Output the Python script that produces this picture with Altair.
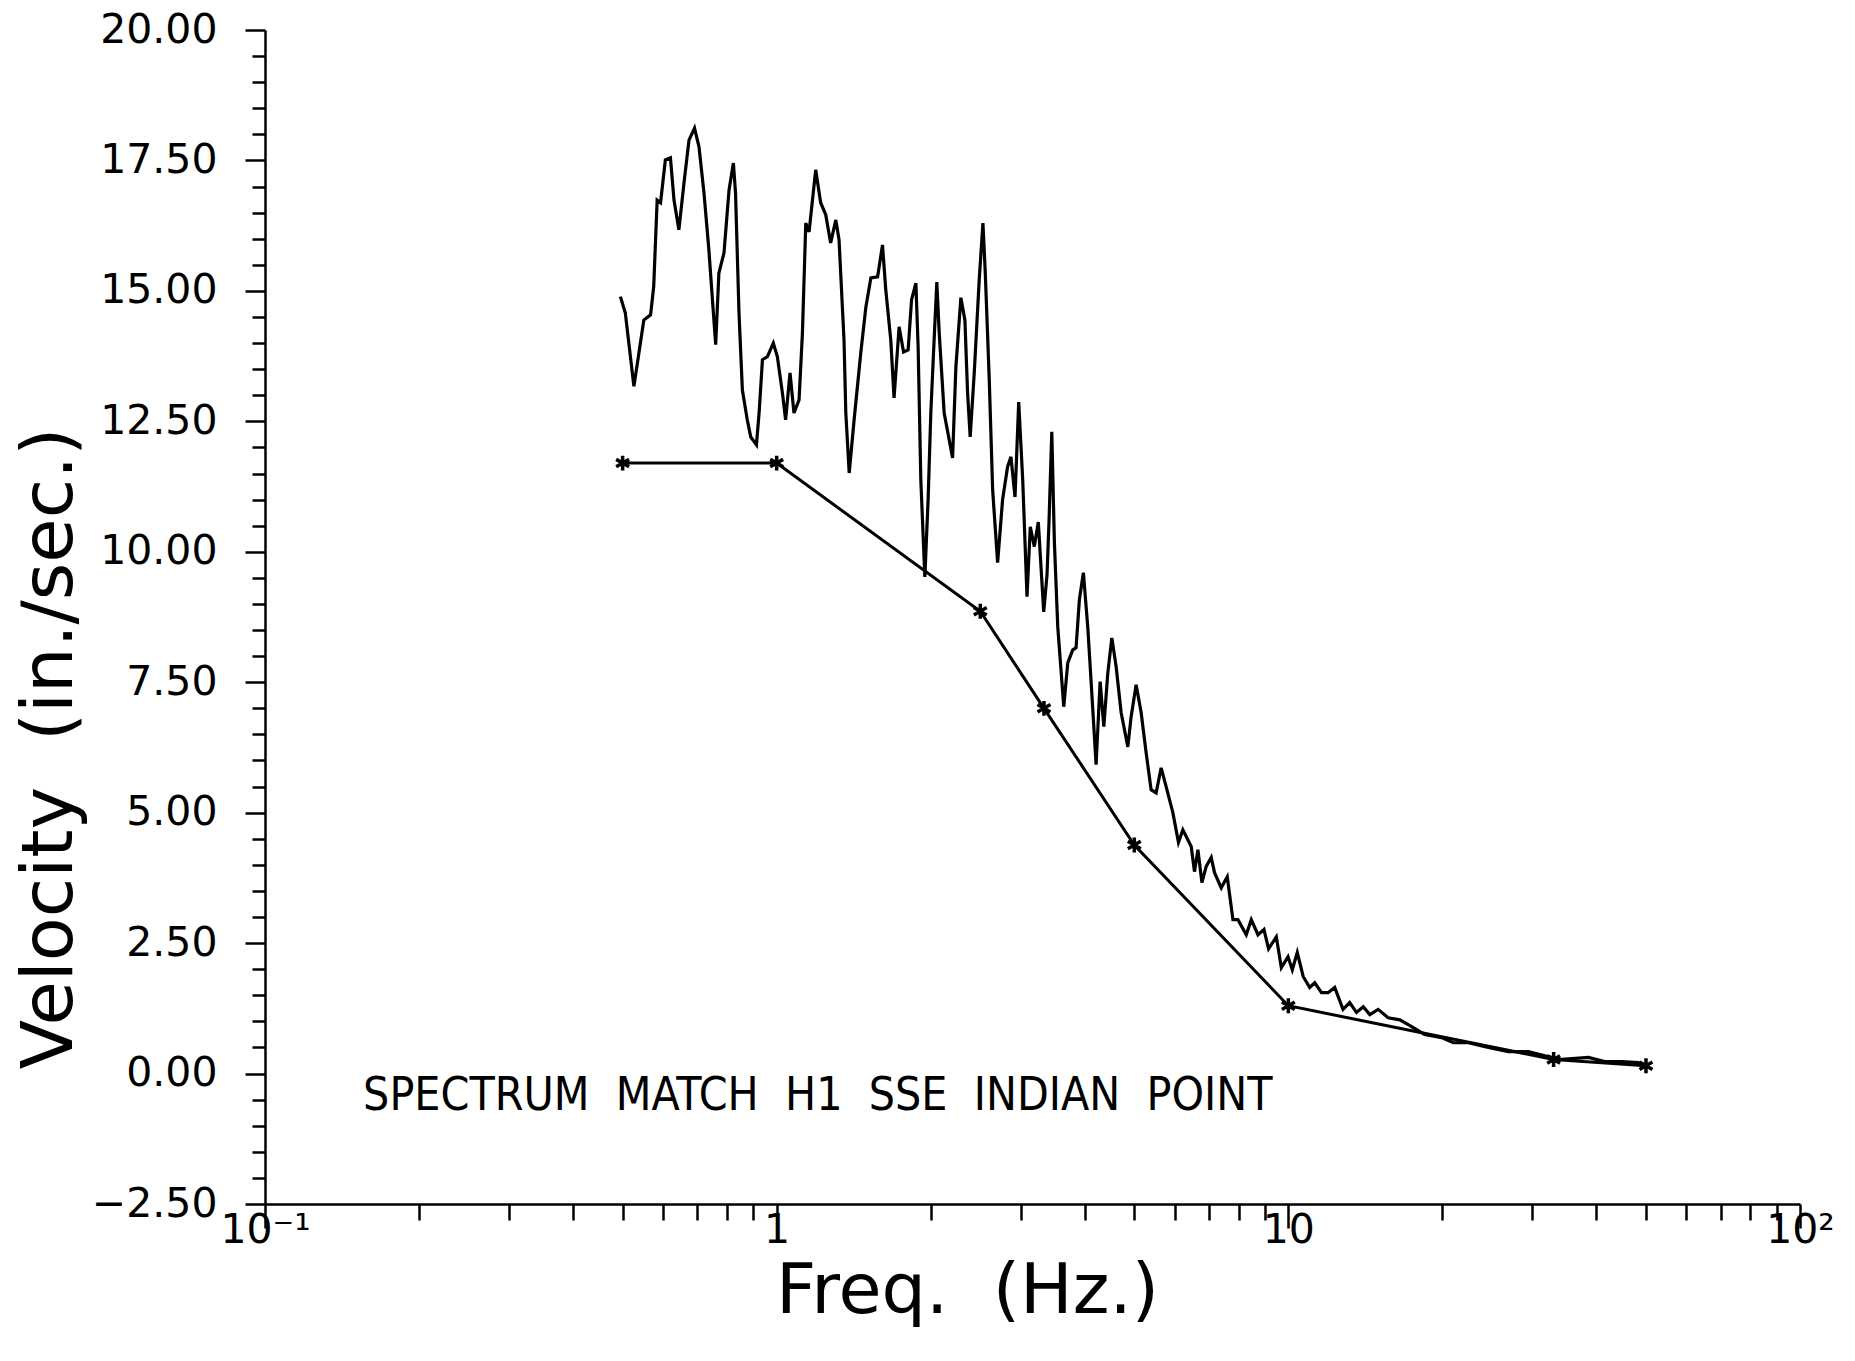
import altair as alt
import pandas as pd

# ---- computed (matched) spectrum ----
freq_meas = [
    0.495, 0.506, 0.526, 0.538, 0.550, 0.567, 0.575, 0.584, 0.593, 0.606,
    0.620, 0.630, 0.644, 0.659, 0.674, 0.691, 0.705, 0.721, 0.737, 0.760,
    0.771, 0.789, 0.807, 0.823, 0.831, 0.844, 0.857, 0.876, 0.890, 0.913,
    0.924, 0.938, 0.959, 0.985, 1.003, 1.026, 1.041, 1.062, 1.081, 1.106,
    1.123, 1.140, 1.157, 1.192, 1.219, 1.247, 1.275, 1.305, 1.324, 1.354,
    1.365, 1.386, 1.417, 1.460, 1.494, 1.528, 1.575, 1.610, 1.634, 1.671,
    1.696, 1.735, 1.770, 1.807, 1.835, 1.871, 1.890, 1.913, 1.948, 1.977,
    2.001, 2.031, 2.056, 2.078, 2.125, 2.207, 2.240, 2.291, 2.333, 2.361,
    2.389, 2.433, 2.488, 2.530, 2.557, 2.603, 2.643, 2.703, 2.764, 2.827,
    2.870, 2.923, 2.972, 3.026, 3.085, 3.131, 3.188, 3.246, 3.326, 3.376,
    3.407, 3.449, 3.490, 3.543, 3.640, 3.706, 3.790, 3.847, 3.905, 3.976,
    4.055, 4.129, 4.210, 4.287, 4.359, 4.438, 4.519, 4.607, 4.712, 4.856,
    4.929, 5.041, 5.156, 5.273, 5.393, 5.516, 5.642, 5.770, 5.947, 6.099,
    6.221, 6.459, 6.555, 6.657, 6.778, 6.910, 7.068, 7.174, 7.394, 7.596,
    7.794, 7.972, 8.275, 8.464, 8.723, 8.961, 9.149, 9.474, 9.690, 9.986,
    10.18, 10.41, 10.69, 11.01, 11.26, 11.61, 11.96, 12.32, 12.79, 13.18,
    13.59, 14.01, 14.43, 14.98, 15.67, 16.52, 17.15, 17.41, 18.46, 19.93,
    21.01, 22.48, 24.59, 26.92, 29.45, 31.74, 34.21, 38.60, 41.53, 44.84,
    48.34, 50.0,
]
vel_meas = [
    14.89, 14.58, 13.17, 13.81, 14.44, 14.54, 15.08, 16.74, 16.69, 17.51,
    17.55, 16.74, 16.17, 17.07, 17.89, 18.12, 17.76, 16.88, 15.79, 13.97,
    15.34, 15.73, 16.93, 17.45, 16.88, 14.58, 13.10, 12.53, 12.20, 12.05,
    12.66, 13.68, 13.74, 14.00, 13.74, 13.05, 12.53, 13.43, 12.66, 12.91,
    14.20, 16.30, 16.13, 17.32, 16.69, 16.46, 15.92, 16.36, 15.98, 14.06,
    12.66, 11.51, 12.53, 13.81, 14.69, 15.25, 15.27, 15.88, 15.02, 14.06,
    12.95, 14.31, 13.83, 13.87, 14.83, 15.15, 13.93, 11.38, 9.52, 11.00,
    12.66, 14.06, 15.17, 14.20, 12.66, 11.80, 13.54, 14.87, 14.44, 13.05,
    12.20, 13.43, 15.21, 16.30, 15.34, 13.30, 11.19, 9.79, 11.00, 11.63,
    11.82, 11.05, 12.87, 11.38, 9.14, 10.48, 10.10, 10.57, 8.85, 9.56,
    10.61, 12.30, 10.17, 8.56, 7.03, 7.87, 8.12, 8.16, 9.08, 9.60,
    8.56, 7.30, 5.92, 7.51, 6.65, 7.68, 8.35, 7.80, 6.92, 6.26,
    6.84, 7.45, 6.92, 6.15, 5.44, 5.38, 5.86, 5.50, 5.00, 4.43,
    4.67, 4.35, 3.87, 4.29, 3.66, 3.97, 4.14, 3.85, 3.56, 3.77,
    2.95, 2.95, 2.66, 2.95, 2.66, 2.76, 2.39, 2.62, 2.03, 2.24,
    1.99, 2.32, 1.86, 1.65, 1.74, 1.55, 1.55, 1.65, 1.23, 1.36,
    1.17, 1.28, 1.13, 1.23, 1.07, 1.03, 0.94, 0.90, 0.75, 0.69,
    0.59, 0.59, 0.50, 0.42, 0.42, 0.34, 0.27, 0.31, 0.23, 0.23,
    0.21, 0.15,
]

# ---- target spectrum (line with star markers) ----
freq_target = [0.5, 1.0, 2.5, 3.33, 5.0, 10.0, 33.0, 50.0]
vel_target = [11.70, 11.70, 8.86, 7.00, 4.38, 1.30, 0.27, 0.15]

# ---- axes ----
y_major = [-2.5, 0.0, 2.5, 5.0, 7.5, 10.0, 12.5, 15.0, 17.5, 20.0]
y_ticks = [round(-2.5 + 0.5 * i, 2) for i in range(46)]
x_major = [0.1, 1, 10, 100]
x_major_labels = ["10⁻¹", "1", "10", "10²"]
x_ticks = ([round(0.1 * k, 2) for k in range(1, 10)] + list(range(1, 10))
           + list(range(10, 100, 10)) + [100])

# ---- annotation ----
ann_text = ["SPECTRUM\u00a0\u00a0MATCH\u00a0\u00a0H1\u00a0\u00a0SSE\u00a0\u00a0INDIAN\u00a0\u00a0POINT"]
ann_f = [0.1555]
ann_v = [-0.69]

df_meas = pd.DataFrame({"f": freq_meas, "v": vel_meas})
df_targ = pd.DataFrame({"f": freq_target, "v": vel_target})
df_ann = pd.DataFrame({"f": ann_f, "v": ann_v, "t": ann_text})

y_major_js = "[" + ",".join(str(v) for v in y_major) + "]"
x_major_js = "[" + ",".join(str(v) for v in x_major) + "]"
y_is_major = f"indexof({y_major_js}, datum.value) >= 0"
x_is_major = f"indexof({x_major_js}, datum.value) >= 0"
x_label_expr = " : ".join(
    f"datum.value === {v} ? '{lab}'" for v, lab in zip(x_major, x_major_labels)
) + " : ''"

FONT = "DejaVu Sans"

x_axis = alt.Axis(
    values=x_ticks,
    labelExpr=x_label_expr,
    tickSize={"condition": {"test": x_is_major, "value": 24}, "value": 16},
    tickWidth=2.5, tickColor="black",
    domainColor="black", domainWidth=2.5,
    labelFont=FONT, labelFontSize=41, labelColor="black",
    labelPadding=-18, labelFlush=False, labelOverlap=False,
    grid=False,
    title="Freq.\u00a0\u00a0(Hz.)",
    titleFont=FONT, titleFontSize=70, titleFontWeight="normal", titleColor="black",
    titleX=702, titleY=108, titleAlign="center", titleBaseline="alphabetic",
)
y_axis = alt.Axis(
    values=y_ticks,
    labelExpr=f"{y_is_major} ? format(datum.value, '.2f') : ''",
    tickSize={"condition": {"test": y_is_major, "value": 20}, "value": 13},
    tickWidth=2.5, tickColor="black",
    domainColor="black", domainWidth=2.5,
    labelFont=FONT, labelFontSize=41, labelColor="black",
    labelPadding=28, labelFlush=False, labelOverlap=False,
    grid=False,
    title="Velocity\u00a0\u00a0(in./sec.)",
    titleFont=FONT, titleFontSize=72, titleFontWeight="normal", titleColor="black",
    titleAngle=270, titleX=-194, titleY=718, titleAlign="center",
    titleBaseline="alphabetic",
)

X = alt.X("f:Q", scale=alt.Scale(type="log", domain=[0.1, 100], nice=False), axis=x_axis)
Y = alt.Y("v:Q", scale=alt.Scale(domain=[-2.5, 20], nice=False, zero=False), axis=y_axis)

asterisk = "M0,-1L0,1M-0.87,-0.5L0.87,0.5M-0.87,0.5L0.87,-0.5"

meas = alt.Chart(df_meas).mark_line(color="black", strokeWidth=3.2).encode(x=X, y=Y)
targ = alt.Chart(df_targ).mark_line(color="black", strokeWidth=3.0).encode(x=X, y=Y)
pts = alt.Chart(df_targ).mark_point(
    shape=asterisk, filled=False, size=220, color="black", strokeWidth=3.5, opacity=1
).encode(x=X, y=Y)
txt = alt.Chart(df_ann).mark_text(
    align="left", baseline="alphabetic",
    font="Liberation Sans Narrow, Arial Narrow, DejaVu Sans Condensed, Liberation Sans",
    fontSize=46, color="black",
).encode(x=X, y=Y, text="t:N")

chart = (
    alt.layer(meas, targ, pts, txt)
    .properties(
        width=1535, height=1174,
        autosize=alt.AutoSizeParams(type="none"),
        padding={"left": 265, "top": 30, "right": 55, "bottom": 157},
        background="white",
    )
    .configure_view(stroke="transparent")
)

chart.save("out.html", embed_options={"renderer": "svg", "actions": False})
